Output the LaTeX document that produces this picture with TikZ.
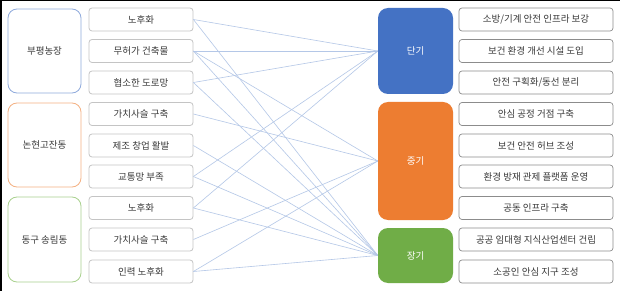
\documentclass[tikz,border=0pt]{standalone}
\usepackage{fontspec}
\setmainfont{Noto Sans CJK KR}
\definecolor{txt}{HTML}{3A3A3A}
\definecolor{cblue}{HTML}{4472C4}
\definecolor{corange}{HTML}{ED7D31}
\definecolor{cgreen}{HTML}{70AD47}
\definecolor{lblue}{HTML}{8FAADC}
\definecolor{lorange}{HTML}{F4B183}
\definecolor{lgreen}{HTML}{A9D18E}
\definecolor{conn}{HTML}{B4C7E7}
\definecolor{midgray}{HTML}{C4C4C4}
\definecolor{rtgray}{HTML}{8C8C8C}
\begin{document}
\begin{tikzpicture}[x=1pt,y=-1pt,
  grp/.style={draw, rounded corners=9pt, line width=0.8pt, fill=white, minimum width=73pt, inner sep=0pt, text=txt, font=\fontsize{9.5}{11}\selectfont},
  midbox/.style={draw=midgray, rounded corners=3pt, line width=0.8pt, fill=white, minimum width=104pt, minimum height=23pt, inner sep=0pt, text=txt, font=\fontsize{9.5}{11}\selectfont},
  rtbox/.style={draw=rtgray, rounded corners=3pt, line width=0.7pt, fill=white, minimum width=154pt, minimum height=23pt, inner sep=0pt, text=txt, font=\fontsize{9.5}{11}\selectfont},
  phase/.style={rounded corners=10pt, minimum width=75pt, inner sep=0pt, text=white, font=\fontsize{9.5}{11}\selectfont},
  link/.style={draw=conn, line width=0.6pt}
]
\useasboundingbox (0,0) rectangle (620,291);
\fill[white] (0,0) rectangle (620,291);
\draw[black, line width=1.5pt] (0.75,291) -- (0.75,0.75) -- (620,0.75);

% left groups
\node[grp, draw=lblue, minimum height=84pt] (g1) at (44.5,51) {부평농장};
\node[grp, draw=lorange, minimum height=84pt] (g2) at (44.5,145) {논현고잔동};
\node[grp, draw=lgreen, minimum height=85pt] (g3) at (44.5,239.5) {동구 송림동};

% middle boxes
\node[midbox] (m1) at (141,19.5) {노후화};
\node[midbox] (m2) at (141,51) {무허가 건축물};
\node[midbox] (m3) at (141,82.5) {협소한 도로망};
\node[midbox] (m4) at (141,114) {가치사슬 구축};
\node[midbox] (m5) at (141,145.5) {제조 창업 활발};
\node[midbox] (m6) at (141,176.5) {교통망 부족};
\node[midbox] (m7) at (141,208) {노후화};
\node[midbox] (m8) at (141,239.5) {가치사슬 구축};
\node[midbox] (m9) at (141,271.5) {인력 노후화};

% phases
\node[phase, fill=cblue, minimum height=86pt] (p1) at (415.5,51) {단기};
\node[phase, fill=corange, minimum height=118pt] (p2) at (415.5,161) {중기};
\node[phase, fill=cgreen, minimum height=55pt] (p3) at (415.5,255.5) {장기};

% right boxes
\node[rtbox] (r1) at (536,19.5) {소방/기계 안전 인프라 보강};
\node[rtbox] (r2) at (536,51) {보건 환경 개선 시설 도입};
\node[rtbox] (r3) at (536,82.5) {안전 구획화/동선 분리};
\node[rtbox] (r4) at (536,114) {안심 공정 거점 구축};
\node[rtbox] (r5) at (536,145.5) {보건 안전 허브 조성};
\node[rtbox] (r6) at (536,176.5) {환경 방재 관제 플랫폼 운영};
\node[rtbox] (r7) at (536,208) {공동 인프라 구축};
\node[rtbox] (r8) at (536,239.5) {공공 임대형 지식산업센터 건립};
\node[rtbox] (r9) at (536,271.5) {소공인 안심 지구 조성};

% connectors
\draw[link] (m1.east) -- (p1.west);
\draw[link] (m1.east) -- (p3.west);
\draw[link] (m2.east) -- (p1.west);
\draw[link] (m2.east) -- (p2.west);
\draw[link] (m2.east) -- (p3.west);
\draw[link] (m3.east) -- (p1.west);
\draw[link] (m3.east) -- (p3.west);
\draw[link] (m4.east) -- (p2.west);
\draw[link] (m5.east) -- (p3.west);
\draw[link] (m6.east) -- (p1.west);
\draw[link] (m6.east) -- (p3.west);
\draw[link] (m7.east) -- (p1.west);
\draw[link] (m7.east) -- (p3.west);
\draw[link] (m8.east) -- (p2.west);
\draw[link] (m9.east) -- (p2.west);
\draw[link] (m9.east) -- (p3.west);
\end{tikzpicture}
\end{document}
